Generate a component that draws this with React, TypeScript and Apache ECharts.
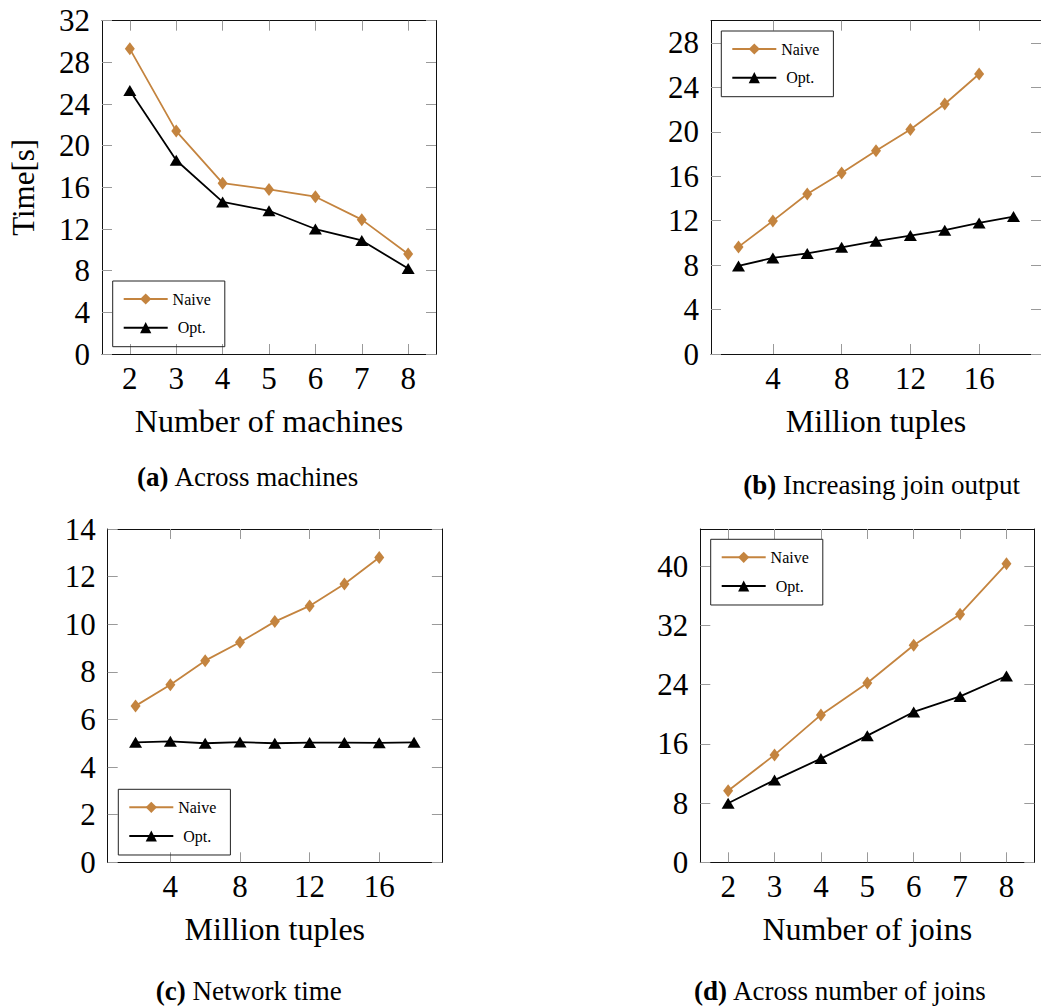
import React, { useEffect, useRef } from "react";
import * as echarts from "echarts";

// ---- data ----
const machines = [2, 3, 4, 5, 6, 7, 8];
const naiveMachines = [29.3, 21.4, 16.4, 15.8, 15.1, 12.9, 9.6];
const optMachines = [25.3, 18.6, 14.6, 13.75, 12.0, 10.9, 8.2];

const joinTuplesNaive = [2, 4, 6, 8, 10, 12, 14, 16];
const joinTuplesOpt = [2, 4, 6, 8, 10, 12, 14, 16, 18];
const naiveJoinOutput = [9.64, 11.98, 14.4, 16.3, 18.3, 20.2, 22.5, 25.2];
const optJoinOutput = [7.93, 8.65, 9.05, 9.6, 10.15, 10.66, 11.14, 11.8, 12.37];

const netTuplesNaive = [2, 4, 6, 8, 10, 12, 14, 16];
const netTuplesOpt = [2, 4, 6, 8, 10, 12, 14, 16, 18];
const naiveNetwork = [6.57, 7.46, 8.47, 9.24, 10.11, 10.77, 11.69, 12.8];
const optNetwork = [5.04, 5.08, 5.0, 5.05, 5.0, 5.03, 5.03, 5.02, 5.04];

const joins = [2, 3, 4, 5, 6, 7, 8];
const naiveJoins = [9.67, 14.5, 19.9, 24.2, 29.3, 33.5, 40.3];
const optJoins = [7.97, 11.1, 14.0, 17.1, 20.3, 22.4, 25.15];

// ---- tick labels ----
const ticksMachinesX = [2, 3, 4, 5, 6, 7, 8];
const ticksMachinesY = [0, 4, 8, 12, 16, 20, 24, 28, 32];
const ticksTuplesX = [4, 8, 12, 16];
const ticksJoinOutputY = [0, 4, 8, 12, 16, 20, 24, 28];
const ticksNetworkY = [0, 2, 4, 6, 8, 10, 12, 14];
const ticksJoinsY = [0, 8, 16, 24, 32, 40];

const seriesNames = ["Naive", "Opt."];
const captionLetters = ["(a)", "(b)", "(c)", "(d)"];
const captionTexts = ["Across machines", "Increasing join output", "Network time", "Across number of joins"];
const xTitles = ["Number of machines", "Million tuples", "Million tuples", "Number of joins"];

const FONT = "Liberation Serif";
const NAIVE_COLOR = "#c4843f";
const OPT_COLOR = "#000000";

const zip = (xs: number[], ys: number[]) => xs.map((x, i) => [x, ys[i]]);

// layout of each panel (plot box, legend box, caption anchor)
const panels = [
  {
    grid: { left: 102, top: 20.7, width: 334, height: 333.3 },
    xMin: 1.4, xMax: 8.6, yMax: 32,
    xTicks: ticksMachinesX, yTicks: ticksMachinesY,
    naive: zip(machines, naiveMachines), opt: zip(machines, optMachines),
    legend: { left: 112.7, top: 281 },
    caption: { x: 248, y: 477 },
    yName: "Time[s]",
  },
  {
    grid: { left: 711, top: 20.7, width: 334, height: 333.3 },
    xMin: 0.4, xMax: 19.6, yMax: 30,
    xTicks: ticksTuplesX, yTicks: ticksJoinOutputY,
    naive: zip(joinTuplesNaive, naiveJoinOutput), opt: zip(joinTuplesOpt, optJoinOutput),
    legend: { left: 721.3, top: 31 },
    caption: { x: 881.7, y: 485 },
    yName: "",
  },
  {
    grid: { left: 107.7, top: 529, width: 334.2, height: 333.3 },
    xMin: 0.4, xMax: 19.6, yMax: 14,
    xTicks: ticksTuplesX, yTicks: ticksNetworkY,
    naive: zip(netTuplesNaive, naiveNetwork), opt: zip(netTuplesOpt, optNetwork),
    legend: { left: 118.3, top: 789.3 },
    caption: { x: 248.8, y: 991 },
    yName: "",
  },
  {
    grid: { left: 700.3, top: 529, width: 334, height: 333.3 },
    xMin: 1.4, xMax: 8.6, yMax: 45,
    xTicks: ticksMachinesX, yTicks: ticksJoinsY,
    naive: zip(joins, naiveJoins), opt: zip(joins, optJoins),
    legend: { left: 710.7, top: 539.3 },
    caption: { x: 840.3, y: 991 },
    yName: "",
  },
];

function buildOption() {
  const grids: any[] = [];
  const xAxes: any[] = [];
  const yAxes: any[] = [];
  const series: any[] = [];
  const legends: any[] = [];
  const graphics: any[] = [];

  const frameLine = { show: true, onZero: false, lineStyle: { color: "#111", width: 1 } };
  const innerTick = (values: number[]) => ({
    show: true,
    inside: true,
    length: 10,
    customValues: values,
    lineStyle: { color: "#9a9a9a", width: 1 },
  });
  const tickLabel = (values: number[], margin: number) => ({
    show: true,
    customValues: values,
    margin,
    color: "#000",
    fontSize: 31,
    fontFamily: FONT,
  });

  panels.forEach((p, i) => {
    grids.push({ ...p.grid, containLabel: false });

    // bottom and top x axes
    xAxes.push({
      type: "value",
      gridIndex: i,
      position: "bottom",
      min: p.xMin,
      max: p.xMax,
      axisLine: frameLine,
      axisTick: innerTick(p.xTicks),
      axisLabel: tickLabel(p.xTicks, 9),
      splitLine: { show: false },
      name: xTitles[i],
      nameLocation: "middle",
      nameGap: 51,
      nameTextStyle: { color: "#000", fontSize: 32, fontFamily: FONT },
    });
    xAxes.push({
      type: "value",
      gridIndex: i,
      position: "top",
      min: p.xMin,
      max: p.xMax,
      axisLine: frameLine,
      axisTick: innerTick(p.xTicks),
      axisLabel: { show: false },
      splitLine: { show: false },
    });

    // left and right y axes
    yAxes.push({
      type: "value",
      gridIndex: i,
      position: "left",
      min: 0,
      max: p.yMax,
      axisLine: frameLine,
      axisTick: innerTick(p.yTicks),
      axisLabel: tickLabel(p.yTicks, 12),
      splitLine: { show: false },
      name: p.yName,
      nameLocation: "middle",
      nameGap: 63,
      nameTextStyle: { color: "#000", fontSize: 31, fontFamily: FONT },
    });
    yAxes.push({
      type: "value",
      gridIndex: i,
      position: "right",
      min: 0,
      max: p.yMax,
      axisLine: frameLine,
      axisTick: innerTick(p.yTicks),
      axisLabel: { show: false },
      splitLine: { show: false },
    });

    series.push({
      type: "line",
      name: seriesNames[0],
      xAxisIndex: 2 * i,
      yAxisIndex: 2 * i,
      data: p.naive,
      symbol: "diamond",
      symbolSize: [10, 13],
      itemStyle: { color: NAIVE_COLOR },
      lineStyle: { color: NAIVE_COLOR, width: 1.8 },
      z: 3,
    });
    series.push({
      type: "line",
      name: seriesNames[1],
      xAxisIndex: 2 * i,
      yAxisIndex: 2 * i,
      data: p.opt,
      symbol: "triangle",
      symbolSize: [13, 11],
      itemStyle: { color: OPT_COLOR },
      lineStyle: { color: OPT_COLOR, width: 1.8 },
      z: 2,
    });

    legends.push({
      left: p.legend.left,
      top: p.legend.top,
      orient: "vertical",
      data: seriesNames,
      itemWidth: 44,
      itemHeight: 14,
      itemGap: 12.7,
      padding: [10, 14, 11, 10],
      borderColor: "#222",
      borderWidth: 1,
      selectedMode: false,
      formatter: "{c|{name}}",
      textStyle: {
        color: "#000",
        fontSize: 16,
        fontFamily: FONT,
        rich: { c: { width: 38, align: "center", fontSize: 16, fontFamily: FONT, color: "#000" } },
      },
    });

    graphics.push({
      type: "text",
      x: p.caption.x,
      y: p.caption.y,
      style: {
        text: `{b|${captionLetters[i]}} ${captionTexts[i]}`,
        fontSize: 27,
        fontFamily: FONT,
        fill: "#000",
        align: "center",
        verticalAlign: "middle",
        rich: { b: { fontWeight: "bold", fontSize: 27, fontFamily: FONT, fill: "#000" } },
      },
    });
  });

  return {
    animation: false,
    backgroundColor: "#fff",
    textStyle: { fontFamily: FONT },
    grid: grids,
    xAxis: xAxes,
    yAxis: yAxes,
    series,
    legend: legends,
    graphic: graphics,
  };
}

export default function App() {
  const ref = useRef<HTMLDivElement>(null);
  useEffect(() => {
    if (!ref.current) return;
    const chart = echarts.init(ref.current, null, { renderer: "svg" });
    chart.setOption(buildOption() as any);
    return () => chart.dispose();
  }, []);
  return (
    <div
      ref={ref}
      style={{ position: "absolute", left: 0, top: 0, width: 1041, height: 1006, background: "#fff" }}
    />
  );
}
